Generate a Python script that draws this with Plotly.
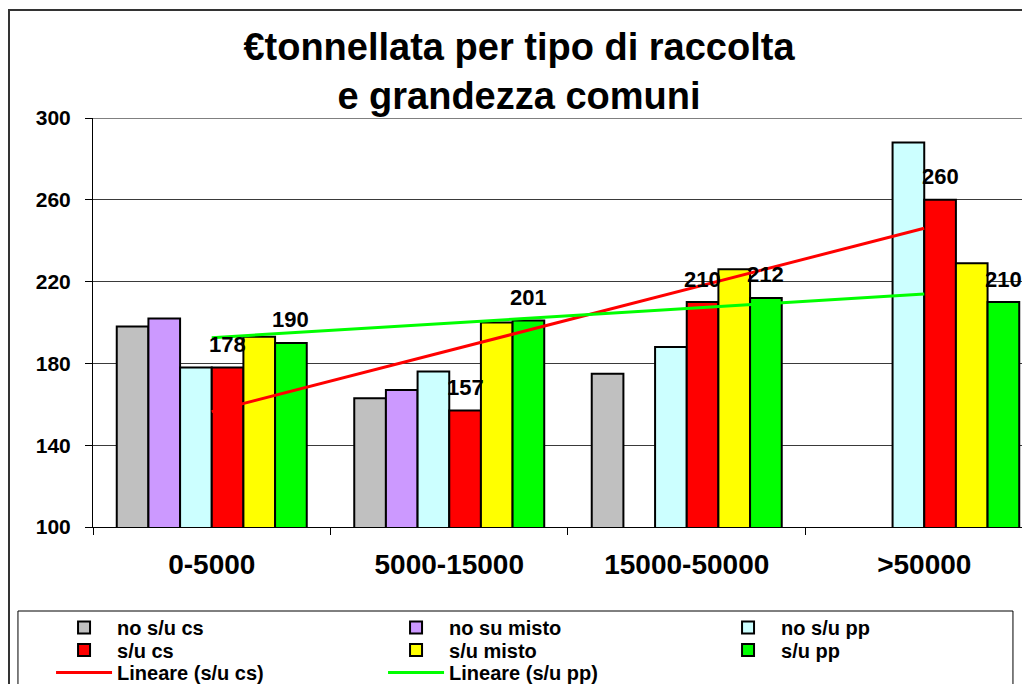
import numpy as np
import plotly.graph_objects as go

# ---------------- data ----------------
categories = ["0-5000", "5000-15000", "15000-50000", ">50000"]
no_su_cs = [198, 163, 175, None]
no_su_misto = [202, 167, None, None]
no_su_pp = [178, 176, 188, 288]
su_cs = [178, 157, 210, 260]
su_misto = [193, 200, 226, 229]
su_pp = [190, 201, 212, 210]

series_names = ["no s/u cs", "no su misto", "no s/u pp", "s/u cs", "s/u misto", "s/u pp"]
series_values = [no_su_cs, no_su_misto, no_su_pp, su_cs, su_misto, su_pp]
series_colors = ["#C0C0C0", "#CC99FF", "#CCFFFF", "#FF0000", "#FFFF00", "#00FF00"]
series_legend = ["legend", "legend", "legend", "legend2", "legend2", "legend2"]

trend_names = ["Lineare (s/u cs)", "Lineare (s/u pp)"]
trend_sources = [su_cs, su_pp]
trend_colors = ["#FF0000", "#00FF00"]

y_ticks = [100, 140, 180, 220, 260, 300]
title_text = "€tonnellata per tipo di raccolta<br>e grandezza comuni"

FONT = "Liberation Sans, Arial, sans-serif"
BARGAP = 0.2

fig = go.Figure()

for name, vals, col, lg in zip(series_names, series_values, series_colors, series_legend):
    fig.add_trace(go.Bar(
        x=categories, y=vals, name=name, legend=lg,
        marker=dict(color=col, line=dict(color="#000000", width=2)),
    ))

# Excel-style linear trend lines
idx = np.arange(1, len(categories) + 1)
for name, src, col in zip(trend_names, trend_sources, trend_colors):
    coef = np.polyfit(idx, np.array(src, dtype=float), 1)
    fig.add_trace(go.Scatter(
        x=categories, y=np.polyval(coef, idx), mode="lines", name=name,
        legend="legend3", line=dict(color=col, width=3),
    ))

# data labels on s/u cs (slot 3) and s/u pp (slot 5)
n_series = len(series_names)
slot_w = (1 - BARGAP) / n_series
annotations = []
for slot, vals in [(3, su_cs), (5, su_pp)]:
    for i, v in enumerate(vals):
        annotations.append(dict(
            x=i + (slot - (n_series - 1) / 2) * slot_w, y=v, xref="x", yref="y",
            text=str(v), showarrow=False, yanchor="middle", yshift=23,
            font=dict(family=FONT, size=22, color="#000000", weight="bold"),
        ))

leg_common = dict(orientation="h", xanchor="left", x=-0.0444, yanchor="middle",
                  entrywidth=261, entrywidthmode="pixels", itemwidth=56,
                  bgcolor="rgba(0,0,0,0)", borderwidth=0, traceorder="normal",
                  font=dict(family=FONT, size=20, color="#000000", weight="bold"))

shapes = [
    # outer chart frame
    dict(type="rect", xref="paper", yref="paper", x0=-0.0889, x1=1.1, y0=-0.6, y1=1.2641,
         line=dict(color="#333333", width=2), fillcolor="rgba(0,0,0,0)", layer="above"),
    # legend frame
    dict(type="rect", xref="paper", yref="paper", x0=-0.0794, x1=0.9735, y0=-0.6, y1=-0.2054,
         line=dict(color="#000000", width=1), fillcolor="rgba(0,0,0,0)", layer="above"),
    # plot area top border
    dict(type="line", xref="paper", yref="y", x0=0, x1=1, y0=300, y1=300,
         line=dict(color="#808080", width=2), layer="above"),
]

fig.update_layout(
    width=1030, height=684,
    margin=dict(l=85, r=0, t=110, b=165, autoexpand=False),
    paper_bgcolor="#FFFFFF", plot_bgcolor="#FFFFFF",
    barmode="group", bargap=BARGAP, bargroupgap=0,
    title=dict(text=title_text, x=0.4961, xanchor="center", xref="container",
               y=0.9243, yanchor="middle", yref="container",
               font=dict(family=FONT, size=38, color="#000000", weight="bold")),
    legend=dict(leg_common, y=-0.2457),
    legend2=dict(leg_common, y=-0.3007),
    legend3=dict(leg_common, y=-0.3557),
    annotations=annotations,
    shapes=shapes,
    font=dict(family=FONT, color="#000000"),
)

fig.update_xaxes(
    type="category", range=[-0.5, 3.479], showline=True, linecolor="#000000", linewidth=1,
    ticks="outside", tickson="boundaries", ticklen=7, tickcolor="#000000",
    showgrid=False, zeroline=False, ticklabelstandoff=12,
    tickfont=dict(family=FONT, size=28, color="#000000", weight="bold"),
)
fig.update_yaxes(
    range=[100, 300], tickvals=y_ticks, showline=True, linecolor="#000000", linewidth=1,
    ticks="outside", ticklen=7, tickcolor="#000000", ticklabelstandoff=10,
    showgrid=True, gridcolor="#3a3a3a", gridwidth=1, zeroline=False,
    tickfont=dict(family=FONT, size=21, color="#000000", weight="bold"),
)

fig.write_html("out.html")
